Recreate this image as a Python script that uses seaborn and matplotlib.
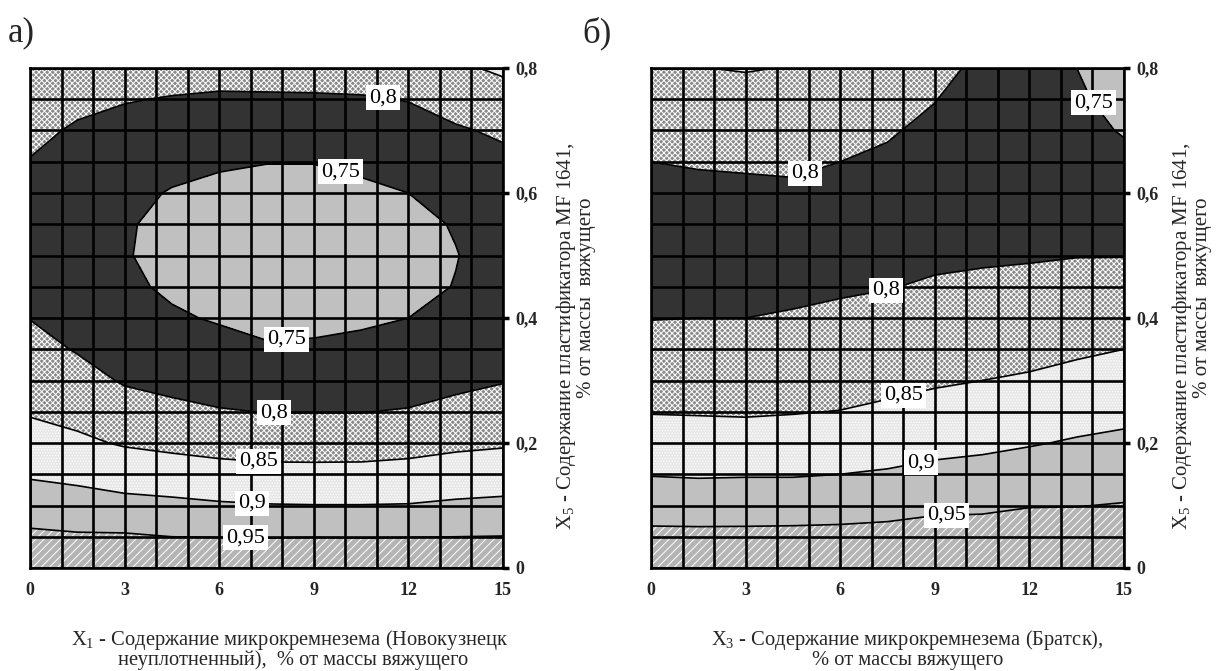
import numpy as np
import matplotlib
matplotlib.use('Agg')
import matplotlib.pyplot as plt
import seaborn as sns

# Grid of the response surface (rows: X5, columns: X1 / X3)
x_values = [0, 1.5, 3, 4.5, 6, 7.5, 9, 10.5, 12, 13.5, 15]
y_values = [0.00, 0.05, 0.10, 0.15, 0.20, 0.25, 0.30, 0.35, 0.40,
            0.45, 0.50, 0.55, 0.60, 0.65, 0.70, 0.75, 0.80]

# а) Новокузнецк
z_novokuznetsk = [
    [0.998, 0.996, 0.995, 0.993, 0.995, 0.997, 0.998, 0.997, 0.995, 0.994, 0.993],
    [0.959, 0.955, 0.955, 0.950, 0.949, 0.948, 0.949, 0.948, 0.949, 0.950, 0.951],
    [0.926, 0.921, 0.914, 0.910, 0.905, 0.902, 0.901, 0.901, 0.902, 0.907, 0.910],
    [0.895, 0.888, 0.878, 0.873, 0.867, 0.863, 0.863, 0.863, 0.866, 0.872, 0.876],
    [0.869, 0.858, 0.846, 0.839, 0.833, 0.830, 0.829, 0.830, 0.834, 0.841, 0.845],
    [0.846, 0.837, 0.819, 0.811, 0.803, 0.799, 0.799, 0.799, 0.803, 0.812, 0.818],
    [0.830, 0.816, 0.796, 0.787, 0.780, 0.774, 0.774, 0.776, 0.779, 0.790, 0.798],
    [0.815, 0.797, 0.778, 0.768, 0.761, 0.754, 0.755, 0.758, 0.762, 0.772, 0.782],
    [0.799, 0.783, 0.765, 0.754, 0.747, 0.740, 0.741, 0.745, 0.750, 0.760, 0.771],
    [0.790, 0.773, 0.756, 0.745, 0.738, 0.732, 0.732, 0.737, 0.742, 0.751, 0.765],
    [0.786, 0.768, 0.752, 0.741, 0.734, 0.728, 0.729, 0.734, 0.740, 0.749, 0.762],
    [0.786, 0.767, 0.753, 0.742, 0.736, 0.731, 0.731, 0.736, 0.742, 0.752, 0.765],
    [0.790, 0.772, 0.758, 0.748, 0.742, 0.738, 0.738, 0.744, 0.750, 0.763, 0.774],
    [0.798, 0.780, 0.769, 0.759, 0.754, 0.751, 0.751, 0.756, 0.762, 0.776, 0.789],
    [0.812, 0.794, 0.783, 0.776, 0.771, 0.770, 0.770, 0.773, 0.779, 0.795, 0.807],
    [0.829, 0.812, 0.803, 0.797, 0.793, 0.793, 0.794, 0.796, 0.802, 0.819, 0.830],
    [0.845, 0.834, 0.827, 0.823, 0.820, 0.823, 0.823, 0.824, 0.829, 0.842, 0.858],
]

# б) Братск
z_bratsk = [
    [0.998, 0.999, 1.000, 1.000, 1.000, 1.003, 1.005, 1.005, 1.006, 1.001, 0.998],
    [0.961, 0.961, 0.961, 0.962, 0.963, 0.965, 0.971, 0.971, 0.977, 0.973, 0.974],
    [0.929, 0.927, 0.928, 0.928, 0.930, 0.934, 0.940, 0.942, 0.948, 0.949, 0.952],
    [0.898, 0.896, 0.897, 0.897, 0.900, 0.904, 0.911, 0.915, 0.922, 0.926, 0.931],
    [0.873, 0.871, 0.869, 0.872, 0.874, 0.881, 0.887, 0.891, 0.897, 0.904, 0.909],
    [0.848, 0.847, 0.846, 0.848, 0.851, 0.858, 0.865, 0.869, 0.875, 0.883, 0.889],
    [0.830, 0.827, 0.827, 0.829, 0.832, 0.838, 0.845, 0.850, 0.855, 0.862, 0.869],
    [0.813, 0.811, 0.812, 0.814, 0.817, 0.822, 0.827, 0.833, 0.837, 0.844, 0.850],
    [0.799, 0.800, 0.800, 0.802, 0.805, 0.809, 0.814, 0.818, 0.822, 0.828, 0.833],
    [0.791, 0.792, 0.793, 0.795, 0.797, 0.799, 0.803, 0.806, 0.809, 0.813, 0.816],
    [0.788, 0.789, 0.790, 0.791, 0.792, 0.793, 0.795, 0.796, 0.797, 0.799, 0.799],
    [0.788, 0.789, 0.790, 0.791, 0.791, 0.790, 0.790, 0.789, 0.788, 0.788, 0.786],
    [0.792, 0.794, 0.795, 0.796, 0.794, 0.791, 0.788, 0.783, 0.781, 0.778, 0.773],
    [0.800, 0.802, 0.803, 0.804, 0.800, 0.795, 0.789, 0.781, 0.777, 0.769, 0.760],
    [0.812, 0.815, 0.816, 0.815, 0.810, 0.803, 0.793, 0.781, 0.774, 0.762, 0.747],
    [0.829, 0.832, 0.832, 0.831, 0.823, 0.814, 0.801, 0.785, 0.774, 0.756, 0.736],
    [0.846, 0.849, 0.853, 0.848, 0.840, 0.829, 0.811, 0.792, 0.776, 0.750, 0.726],
]

fill_levels = [0.70, 0.75, 0.80, 0.85, 0.90, 0.95, 1.05]
line_levels = [0.75, 0.80, 0.85, 0.90, 0.95]
x_ticks = [0, 3, 6, 9, 12, 15]
y_ticks = [0, 0.2, 0.4, 0.6, 0.8]

fill_colors = ['#c0c0c0', '#333333', '#8a8a8a', '#e6e6e6', '#c0c0c0', '#b4b4b4']
fill_hatches = [None, None, 'xxxxxx', '......', None, '////']

sns.set_style('white')
plt.rcParams['font.family'] = ['Liberation Serif', 'DejaVu Serif']
plt.rcParams['mathtext.fontset'] = 'custom'
plt.rcParams['mathtext.rm'] = 'Liberation Serif'
plt.rcParams['mathtext.it'] = 'Liberation Serif:italic'
plt.rcParams['hatch.color'] = '#262626'
plt.rcParams['hatch.linewidth'] = 0.7


def fmt_label(v):
    return f"{v:g}".replace('.', ',')


# Draw one contour panel
def draw_panel(axes, z, label_positions):
    z = np.array(z)
    axes.contourf(x_values, y_values, z, levels=fill_levels,
                  colors=fill_colors, hatches=fill_hatches)
    lines = axes.contour(x_values, y_values, z, levels=line_levels,
                         colors='black', linewidths=1.2)
    labels = axes.clabel(lines, line_levels, manual=label_positions,
                         inline=False, fmt=fmt_label, fontsize=16)
    for t in labels:
        t.set_rotation(0)
        t.set_bbox(dict(boxstyle='square,pad=0.14', facecolor='white', edgecolor='none'))
        t.set_zorder(5)

    axes.set_xlim(0, 15)
    axes.set_ylim(0, 0.8)
    axes.set_xticks(np.arange(0, 16, 1), minor=True)
    axes.set_yticks(np.arange(0, 0.81, 0.05), minor=True)
    axes.set_xticks(x_ticks)
    axes.set_yticks(y_ticks)
    axes.set_xticklabels([str(v) for v in x_ticks], fontsize=13, fontweight='bold')
    axes.set_yticklabels([fmt_label(v) for v in y_ticks], fontsize=13, fontweight='bold')
    axes.yaxis.tick_right()
    axes.set_axisbelow(False)
    axes.grid(which='both', color='black', linewidth=1.9)
    axes.tick_params(which='major', length=4, width=2.5, color='black', direction='out')
    axes.tick_params(axis='x', which='major', pad=6)
    axes.tick_params(axis='y', which='major', pad=5)
    axes.tick_params(which='minor', length=0)
    for spine in axes.spines.values():
        spine.set_color('black')
        spine.set_linewidth(1.9)


figure = plt.figure(figsize=(12.18, 6.71), dpi=100)
ax_a = figure.add_axes([30 / 1218, 1 - 568 / 671, 473 / 1218, 500 / 671])
ax_b = figure.add_axes([651 / 1218, 1 - 568 / 671, 473 / 1218, 500 / 671])

draw_panel(ax_a, z_novokuznetsk,
           [(11.16, 0.741), (9.84, 0.634), (8.15, 0.362), (7.73, 0.246),
            (7.25, 0.170), (7.04, 0.107), (6.83, 0.046)])
draw_panel(ax_b, z_bratsk,
           [(13.9, 0.739), (4.88, 0.630), (7.45, 0.444), (8.05, 0.269),
            (8.58, 0.160), (9.37, 0.075)])

# Panel letters
figure.text(8 / 1218, 1 - 33 / 671, 'а)', fontsize=25, va='center', ha='left')
figure.text(582 / 1218, 1 - 33 / 671, 'б)', fontsize=25, va='center', ha='left')

# X axis titles
figure.text(290 / 1218, 1 - 640 / 671, 'X$_1$ - Содержание микрокремнезема (Новокузнецк',
            fontsize=14.8, ha='center', va='center')
figure.text(293 / 1218, 1 - 660 / 671, 'неуплотненный),  % от массы вяжущего',
            fontsize=14.8, ha='center', va='center')
figure.text(907 / 1218, 1 - 640 / 671, 'X$_3$ - Содержание микрокремнезема (Братск),',
            fontsize=14.8, ha='center', va='center')
figure.text(908 / 1218, 1 - 661 / 671, '% от массы вяжущего',
            fontsize=14.8, ha='center', va='center')

# Y axis titles (right side)
for x_line1, x_line2 in [(566, 587), (1182, 1203)]:
    figure.text(x_line1 / 1218, 1 - 336 / 671, 'X$_5$ - Содержание пластификатора MF 1641,',
                fontsize=15, rotation=90, ha='center', va='center')
    figure.text(x_line2 / 1218, 1 - 298 / 671, '% от массы  вяжущего',
                fontsize=15, rotation=90, ha='center', va='center')

figure.savefig('out.png', dpi=100)
